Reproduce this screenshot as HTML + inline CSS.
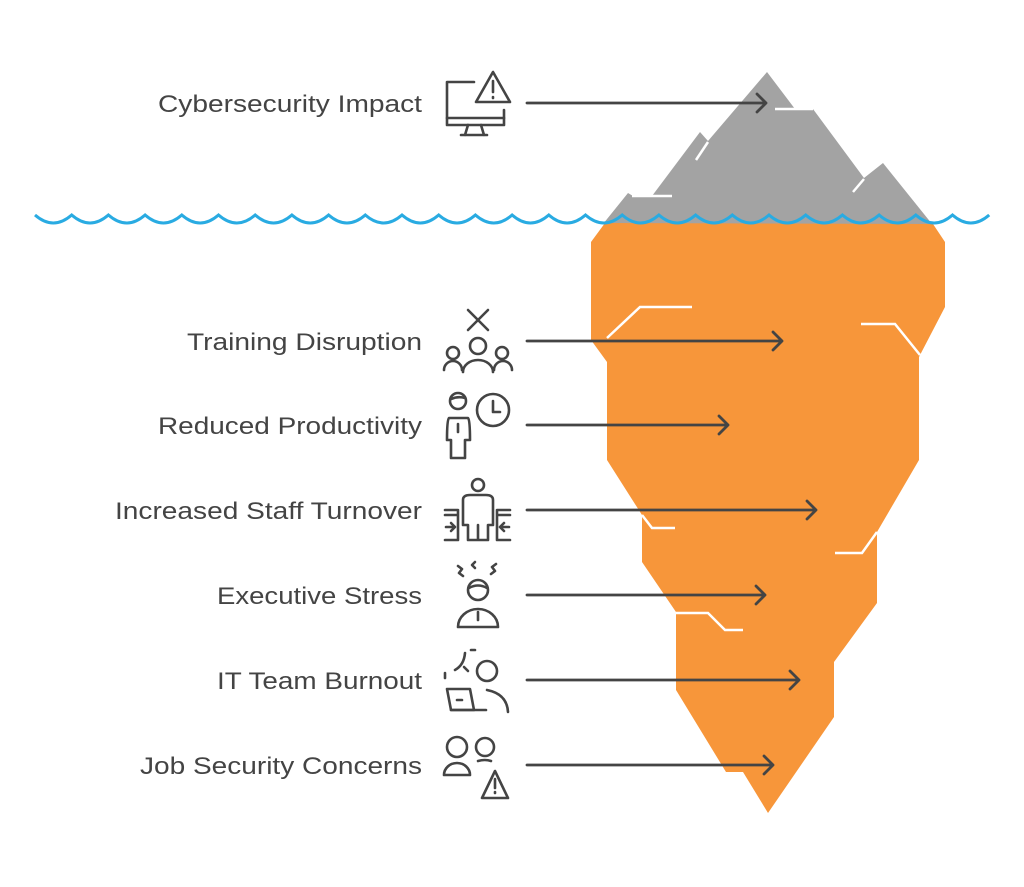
<!DOCTYPE html>
<html><head><meta charset="utf-8"><style>
html,body{margin:0;padding:0;background:#fff;width:1024px;height:887px;overflow:hidden}
text{font-family:"Liberation Sans",Arial,sans-serif;font-size:24px;fill:#444}
</style></head><body>
<svg width="1024" height="887" viewBox="0 0 1024 887" xmlns="http://www.w3.org/2000/svg">
<!-- gray tip -->
<polygon fill="#a3a3a3" points="767,72 795,109 813,109 864,178 883,163 932,224 603,224 628,193 633,196 652,196 700,132 708,141"/>
<!-- orange body -->
<polygon fill="#f7963a" points="605,223 933,224 945,242 945,307 919,357 919,460 877,532 877,603 834,662 834,717 768,813 743,772 726,772 676,690 676,612 642,562 642,515 607,460 607,362 591,340 591,242"/>
<!-- white crack lines -->
<g fill="none" stroke="#fff" stroke-width="2.5">
<polyline points="775,109 813,109"/>
<polyline points="696,160 708,142"/>
<polyline points="632,196 672,196"/>
<polyline points="853,192 864,179"/>
<polyline points="607,338 640,307 692,307"/>
<polyline points="861,324 895,324 920,355"/>
<polyline points="642,515 652,528 675,528"/>
<polyline points="835,553 862,553 877,532"/>
<polyline points="676,613 708,613 725,630 743,630"/>
</g>
<!-- water -->
<path fill="none" stroke="#29abe2" stroke-width="3" d="M35 215 q18.35 16 36.7 0 q18.35 16 36.7 0 q18.35 16 36.7 0 q18.35 16 36.7 0 q18.35 16 36.7 0 q18.35 16 36.7 0 q18.35 16 36.7 0 q18.35 16 36.7 0 q18.35 16 36.7 0 q18.35 16 36.7 0 q18.35 16 36.7 0 q18.35 16 36.7 0 q18.35 16 36.7 0 q18.35 16 36.7 0 q18.35 16 36.7 0 q18.35 16 36.7 0 q18.35 16 36.7 0 q18.35 16 36.7 0 q18.35 16 36.7 0 q18.35 16 36.7 0 q18.35 16 36.7 0 q18.35 16 36.7 0 q18.35 16 36.7 0 q18.35 16 36.7 0 q18.35 16 36.7 0 q18.35 16 36.7 0"/>
<!-- arrows -->
<g fill="none" stroke="#444" stroke-width="2.8" stroke-linecap="round" stroke-linejoin="round">
<path d="M527 103H766M757 94l9 9-9 9"/>
<path d="M527 341H782M773 332l9 9-9 9"/>
<path d="M527 425H728M719 416l9 9-9 9"/>
<path d="M527 510H816M807 501l9 9-9 9"/>
<path d="M527 595H765M756 586l9 9-9 9"/>
<path d="M527 680H799M790 671l9 9-9 9"/>
<path d="M527 765H773M764 756l9 9-9 9"/>
</g>
<!-- labels -->
<g text-anchor="end">
<text x="422" y="112" textLength="264" lengthAdjust="spacingAndGlyphs">Cybersecurity Impact</text>
<text x="422" y="350" textLength="235" lengthAdjust="spacingAndGlyphs">Training Disruption</text>
<text x="422" y="434" textLength="264" lengthAdjust="spacingAndGlyphs">Reduced Productivity</text>
<text x="422" y="519" textLength="307" lengthAdjust="spacingAndGlyphs">Increased Staff Turnover</text>
<text x="422" y="604" textLength="205" lengthAdjust="spacingAndGlyphs">Executive Stress</text>
<text x="422" y="689" textLength="205" lengthAdjust="spacingAndGlyphs">IT Team Burnout</text>
<text x="422" y="774" textLength="282" lengthAdjust="spacingAndGlyphs">Job Security Concerns</text>
</g>
<!-- icons -->
<g fill="none" stroke="#444" stroke-width="2.6" stroke-linecap="round" stroke-linejoin="round">
<path d="M474 82H447V125H504V110"/><path d="M447 118H504"/><path d="M468 125l-3 10M481 125l3 10M461 135H487"/>
<path d="M493 72L476 102H510Z"/><path d="M493 81v11M493 97v1"/>
<path d="M468 310l20 20M488 310l-20 20"/>
<circle cx="453" cy="353" r="6"/><circle cx="478" cy="346" r="8"/><circle cx="502" cy="353" r="6"/>
<path d="M444 370a9 9 0 0 1 18 0M463 372a15 12 0 0 1 30 0M494 370a9 9 0 0 1 18 0"/>
<circle cx="458" cy="401" r="8"/><path d="M451 399q7 -3 14 -1"/>
<path d="M449 418H468Q470 420 470 440L465 440V458H451V440H447Q447 420 449 418Z"/><path d="M458 424v8"/>
<circle cx="493" cy="410" r="16"/><path d="M493 401v11h7"/>
<circle cx="478" cy="485" r="6"/>
<path d="M463 500Q463 495 470 495H486Q493 495 493 500V525H488V540H468V525H463Z"/><path d="M478 525v14"/>
<path d="M445 510h13v30h-13M445 515h13M446 527h8M451 523l4 4-4 4"/>
<path d="M510 510h-13v30h13M510 515h-13M509 527h-8M504 523l-4 4 4 4"/>
<path d="M458 566l4 3-3 4 4 3M475 562l-3 3 3 3M496 564l-4 3 3 4-4 3"/>
<circle cx="478" cy="590" r="10"/><path d="M469 588q9 -5 18 0"/>
<path d="M458 627a20 18 0 0 1 40 0Z"/><path d="M478 612v8"/>
<path d="M455 670q9 -5 10 -17M471 650h4M464 667l4 4M445 673v5"/>
<circle cx="487" cy="671" r="10"/>
<path d="M447 689H470L474 710H451Z"/><path d="M451 710H486M457 700h5"/>
<path d="M487 690q20 4 21 22"/>
<circle cx="457" cy="747" r="10"/><path d="M444 775a13 12 0 0 1 26 0Z"/>
<circle cx="485" cy="747" r="9"/><path d="M478 761q7 -2 13 0"/>
<path d="M495 771L482 798H508Z"/><path d="M495 779v9M495 792v1"/>
</g>
</svg>
</body></html>
